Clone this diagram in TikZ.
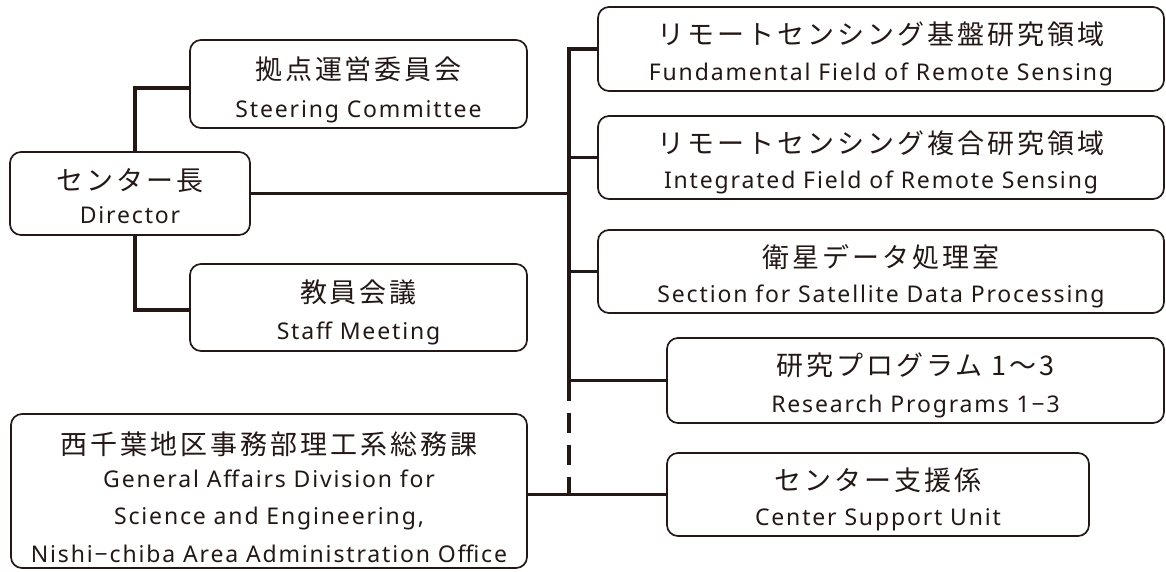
\documentclass[tikz,border=0pt]{standalone}
\usepackage{fontspec}
\newfontfamily\jpf[LetterSpace=11]{Noto Sans CJK JP}
\newfontfamily\enf[LetterSpace=8]{Noto Sans}
\definecolor{ink}{RGB}{35,24,21}
\begin{document}
\begin{tikzpicture}[x=1pt,y=-1pt,
  box/.style={draw=ink, line width=1.7pt, rounded corners=11pt, inner sep=0pt},
  jp/.style={font=\jpf\fontsize{27}{32}\selectfont, text=ink, anchor=base, inner sep=0pt},
  en/.style={font=\enf\fontsize{23}{27}\selectfont, text=ink, anchor=base, inner sep=0pt},
  conn/.style={draw=ink, line width=3.4pt},
  dashconn/.style={draw=ink, line width=3.4pt, dash pattern=on 20pt off 12pt}]
\useasboundingbox (0,0) rectangle (1166,571);
% boxes
\node[box, minimum width=337pt, minimum height=88pt] (steer) at (358.5,84) {};
\node[box, minimum width=240pt, minimum height=83pt] (dir) at (130,193.5) {};
\node[box, minimum width=337pt, minimum height=87pt] (staff) at (358.5,307.5) {};
\node[box, minimum width=566pt, minimum height=84pt] (fund) at (881,49) {};
\node[box, minimum width=566pt, minimum height=83pt] (integ) at (881,157.5) {};
\node[box, minimum width=566pt, minimum height=83pt] (sect) at (881,271.5) {};
\node[box, minimum width=497pt, minimum height=85pt] (resp) at (915.5,380.5) {};
\node[box, minimum width=422pt, minimum height=83pt] (csu) at (878,494.5) {};
\node[box, minimum width=516pt, minimum height=154pt] (gad) at (269,491) {};
% texts
\node[jp] (steerJ) at ([yshift=-40pt]steer.north) {拠点運営委員会};
\node[en] (steerE) at ([yshift=11pt]steer.south) {Steering Committee};
\node[jp] (dirJ) at ([yshift=-39pt]dir.north) {センター長};
\node[en] (dirE) at ([yshift=12pt]dir.south) {Director};
\node[jp] (staffJ) at ([yshift=-39pt]staff.north) {教員会議};
\node[en] (staffE) at ([yshift=12pt]staff.south) {Staff Meeting};
\node[jp] (fundJ) at ([yshift=-38pt]fund.north) {リモートセンシング基盤研究領域};
\node[en] (fundE) at ([yshift=11pt]fund.south) {Fundamental Field of Remote Sensing};
\node[jp] (integJ) at ([yshift=-38pt]integ.north) {リモートセンシング複合研究領域};
\node[en] (integE) at ([yshift=11pt]integ.south) {Integrated Field of Remote Sensing};
\node[jp] (sectJ) at ([yshift=-38pt]sect.north) {衛星データ処理室};
\node[en] (sectE) at ([yshift=11pt]sect.south) {Section for Satellite Data Processing};
\node[jp] (respJ) at ([yshift=-38pt]resp.north) {研究プログラム 1〜3};
\node[en] (respE) at ([yshift=11pt]resp.south) {Research Programs 1−3};
\node[jp] (csuJ) at ([yshift=-38pt]csu.north) {センター支援係};
\node[en] (csuE) at ([yshift=11pt]csu.south) {Center Support Unit};
\node[jp] (gadJ) at ([yshift=-41pt]gad.north) {西千葉地区事務部理工系総務課};
\node[en] (gadE1) at ([yshift=-74pt]gad.north) {General Affairs Division for};
\node[en] (gadE2) at ([yshift=-111pt]gad.north) {Science and Engineering,};
\node[en] (gadE3) at ([yshift=6pt]gad.south) {Nishi−chiba Area Administration Office};
% connectors
\coordinate (tr) at (569,0);
\draw[conn] ([yshift=-4pt]steer.west) -| ([xshift=5pt]dir.north);
\draw[conn] ([xshift=5pt]dir.south) |- ([yshift=-2.5pt]staff.west);
\draw[conn] (fund.west) -- (fund.west -| tr) -- (resp.west -| tr);
\draw[dashconn] (resp.west -| tr) -- (csu.west -| tr);
\draw[conn] (dir.east) -- (dir.east -| tr);
\draw[conn] (integ.west) -- (integ.west -| tr);
\draw[conn] (sect.west) -- (sect.west -| tr);
\draw[conn] (resp.west) -- (resp.west -| tr);
\draw[conn] (gad.east |- csu.west) -- (csu.west);
\end{tikzpicture}
\end{document}
